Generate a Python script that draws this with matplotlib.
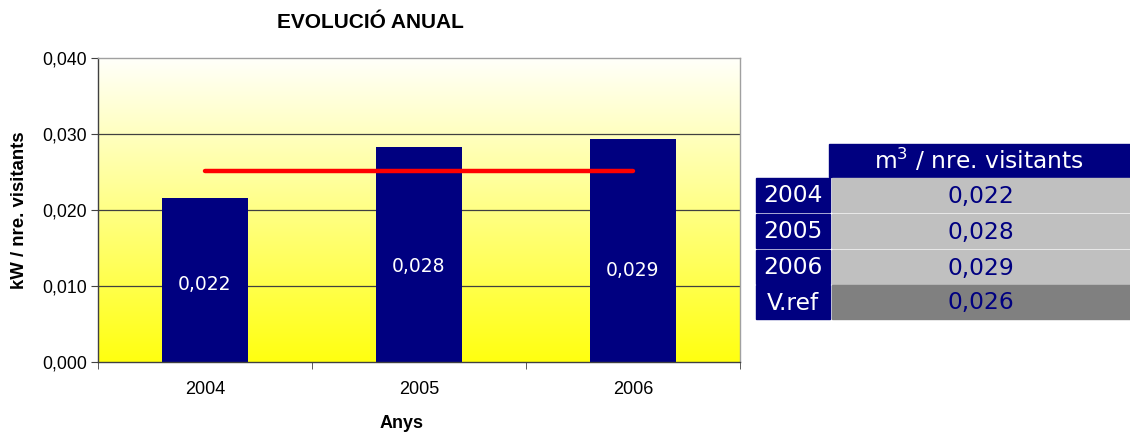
import matplotlib.pyplot as plt
import numpy as np
from matplotlib.colors import LinearSegmentedColormap
from matplotlib.patches import Rectangle

years = ["2004", "2005", "2006"]
values = [0.0216, 0.0283, 0.0293]
ref_value = 0.0251
bar_labels = ["0,022", "0,028", "0,029"]
label_y = [0.0102, 0.0125, 0.0121]

table_header = "m$^3$ / nre. visitants"
table_rows = ["2004", "2005", "2006", "V.ref"]
table_values = ["0,022", "0,028", "0,029", "0,026"]

W, H = 1130, 433
fig = plt.figure(figsize=(W / 100, H / 100), dpi=100)
fig.patch.set_facecolor("white")

# plot area in pixels: x 98..740, y 58..362
ax = fig.add_axes([98 / W, 1 - 362 / H, (740 - 98) / W, (362 - 58) / H])

x = np.arange(len(years))
ax.set_xlim(-0.5, 2.5)

# gradient background white (top) -> yellow (bottom)
cmap = LinearSegmentedColormap.from_list("bg", ["#fffffa", "#ffff10"])
grad = np.linspace(0, 1, 256).reshape(-1, 1)
ax.imshow(grad, aspect="auto", cmap=cmap, extent=[-0.5, 2.5, 0, 0.04],
          origin="upper", zorder=0)
ax.set_ylim(0, 0.04)

for yv in [0.01, 0.02, 0.03]:
    ax.axhline(yv, color="#404040", lw=0.9, zorder=1)

ax.bar(x, values, width=0.4, color="#000080", zorder=2)
ax.plot(x, [ref_value] * len(x), color="#ff0000", lw=3.2, solid_capstyle="round", zorder=3)

for xi, lab, ly in zip(x, bar_labels, label_y):
    ax.text(xi, ly, lab, color="white", ha="center", va="center", fontsize=13.5,
            family="DejaVu Sans", zorder=4)

ax.set_yticks([0, 0.01, 0.02, 0.03, 0.04])
ax.set_yticklabels(["0,000", "0,010", "0,020", "0,030", "0,040"], fontsize=12.7,
                   family="Liberation Sans")
ax.set_xticks(x)
ax.set_xticklabels(years, fontsize=13, family="Liberation Sans")
ax.set_xticks([-0.5, 0.5, 1.5, 2.5], minor=True)
ax.tick_params(axis="x", which="major", length=0, pad=14)
ax.tick_params(axis="x", which="minor", length=5, color="#404040")
ax.tick_params(axis="y", length=5, color="#404040", pad=3)

for side in ["left", "bottom"]:
    ax.spines[side].set_color("#404040")
    ax.spines[side].set_linewidth(1.0)
for side in ["top", "right"]:
    ax.spines[side].set_color("#a0a0a0")
    ax.spines[side].set_linewidth(1.0)

fig.text(370 / W, 1 - 22 / H, "EVOLUCIÓ ANUAL", ha="center", va="center",
         fontsize=15, fontweight="bold", family="Liberation Sans")
fig.text(20 / W, 1 - 210 / H, "kW / nre. visitants", ha="center", va="center",
         rotation=90, fontsize=13.4, fontweight="bold", family="Liberation Sans")
fig.text(402 / W, 1 - 424 / H, "Anys", ha="center", va="center",
         fontsize=13, fontweight="bold", family="Liberation Sans")

# table on the right, drawn in pixel coordinates
tax = fig.add_axes([0, 0, 1, 1], zorder=5)
tax.set_xlim(0, W)
tax.set_ylim(H, 0)
tax.axis("off")

navy = "#000080"
tax.add_patch(Rectangle((829, 144), W - 829, 33, color=navy))
tax.text((829 + W) / 2, 160, table_header, color="white", ha="center", va="center",
         fontsize=16.8, family="DejaVu Sans")

row_tops = [178, 214, 250, 285]
row_h = 34
for i, (rl, rv) in enumerate(zip(table_rows, table_values)):
    top = row_tops[i]
    tax.add_patch(Rectangle((756, top), 74, row_h, color=navy))
    fill = "#808080" if rl == "V.ref" else "#c0c0c0"
    tax.add_patch(Rectangle((832, top), W - 832, row_h, color=fill))
    tax.text(793, top + row_h / 2 + 1, rl, color="white", ha="center", va="center",
             fontsize=16.8, family="DejaVu Sans")
    tax.text((832 + W) / 2, top + row_h / 2 + 1, rv, color=navy, ha="center", va="center",
             fontsize=16.8, family="DejaVu Sans")

plt.savefig("out.png", dpi=100)
